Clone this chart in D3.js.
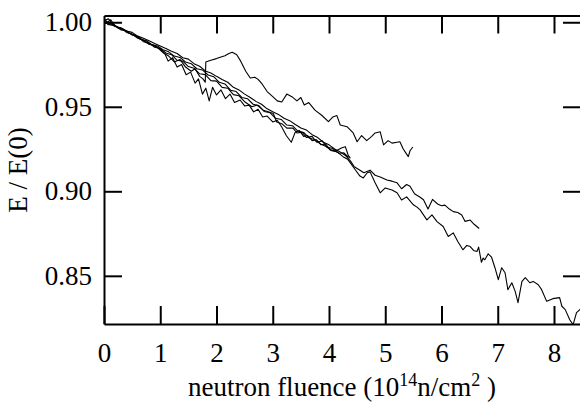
<!DOCTYPE html>
<html>
<head>
<meta charset="utf-8">
<script src="https://cdn.jsdelivr.net/npm/d3@7"></script>
<style>
  html, body { margin: 0; padding: 0; background: #fff; }
  svg { display: block; }
</style>
</head>
<body>
<svg id="chart" width="580" height="410" font-family="Liberation Serif"></svg>
<script>
// ---- data (fluence in 1e14 n/cm^2, E/E(0)) ----
const xTicks = [0, 1, 2, 3, 4, 5, 6, 7, 8];
const yTicks = [0.85, 0.90, 0.95, 1.00];
const xLabel = ["neutron fluence (10", "14", "n/cm", "2", " )"];
const yLabel = "E / E(0)";

const seriesA = [
  [0.00,1.001],[0.08,1.002],[0.15,0.999],[0.25,0.997],[0.35,0.9955],[0.45,0.9935],[0.55,0.992],
  [0.65,0.9905],[0.75,0.988],[0.85,0.9865],[0.95,0.985],[1.05,0.982],[1.15,0.980],[1.25,0.9765],
  [1.35,0.978],[1.45,0.9735],[1.55,0.971],[1.62,0.9725],[1.70,0.968],[1.76,0.9665],[1.80,0.9645],
  [1.81,0.9765],[1.90,0.9775],[2.00,0.9785],[2.08,0.9795],[2.15,0.9802],[2.22,0.9815],[2.28,0.9822],
  [2.36,0.9808],[2.43,0.977],[2.52,0.971],[2.60,0.967],[2.68,0.9675],[2.74,0.9662],[2.81,0.9635],
  [2.90,0.959],[3.00,0.956],[3.08,0.9535],[3.16,0.9528],[3.25,0.9575],[3.34,0.956],[3.43,0.9535],
  [3.50,0.9555],[3.56,0.951],[3.64,0.9525],[3.75,0.948],[3.87,0.945],[3.99,0.9412],[4.07,0.944],
  [4.14,0.9448],[4.20,0.9392],[4.32,0.9382],[4.43,0.9345],[4.50,0.9293],[4.58,0.933],[4.67,0.930],
  [4.76,0.9325],[4.82,0.9345],[4.91,0.9352],[4.97,0.9275],[5.05,0.930],[5.12,0.9285],[5.21,0.929],
  [5.26,0.9293],[5.32,0.925],[5.38,0.922],[5.41,0.9205],[5.44,0.924],[5.49,0.9262]
];

const seriesB = [
  [0.00,1.000],[0.10,0.9995],[0.20,0.9975],[0.30,0.9968],[0.40,0.9948],[0.50,0.994],[0.60,0.9918],
  [0.70,0.9905],[0.80,0.989],[0.90,0.9875],[1.00,0.986],[1.10,0.9845],[1.20,0.9828],[1.30,0.9815],
  [1.40,0.979],[1.50,0.9782],[1.60,0.9755],[1.70,0.974],[1.80,0.9712],[1.90,0.970],[2.00,0.968],
  [2.10,0.9662],[2.20,0.9645],[2.30,0.9615],[2.40,0.960],[2.50,0.9575],[2.60,0.9555],[2.70,0.9532],
  [2.80,0.9515],[2.90,0.9488],[3.00,0.947],[3.10,0.9455],[3.20,0.9432],[3.30,0.9418],[3.40,0.9395],
  [3.50,0.9375],[3.60,0.9362],[3.70,0.9335],[3.80,0.9318],[3.90,0.929],[4.00,0.9275],[4.10,0.925],
  [4.20,0.9232],[4.30,0.921],[4.38,0.918],[4.45,0.9145],[4.55,0.9125],[4.62,0.911],[4.73,0.9125],
  [4.82,0.9095],[4.91,0.9085],[5.03,0.9067],[5.12,0.906],[5.21,0.905],[5.29,0.9015],[5.38,0.904],
  [5.44,0.903],[5.52,0.8985],[5.62,0.8965],[5.68,0.895],[5.76,0.8895],[5.84,0.8952],[5.93,0.8925],
  [6.00,0.8915],[6.06,0.8918],[6.14,0.8895],[6.21,0.888],[6.29,0.8875],[6.36,0.886],[6.42,0.8822],
  [6.51,0.883],[6.58,0.8805],[6.67,0.878]
];

const seriesC = [
  [0.00,1.001],[0.08,0.9985],[0.16,0.9992],[0.25,0.9965],[0.35,0.9958],[0.45,0.9935],[0.55,0.9925],
  [0.65,0.9898],[0.75,0.9892],[0.85,0.9868],[0.95,0.986],[1.05,0.9838],[1.15,0.9825],[1.25,0.980],
  [1.35,0.9792],[1.45,0.9765],[1.55,0.9755],[1.65,0.9725],[1.75,0.9718],[1.85,0.9688],[1.95,0.9678],
  [2.05,0.9645],[2.15,0.9635],[2.25,0.9598],[2.35,0.959],[2.45,0.9555],[2.55,0.9548],[2.65,0.9515],
  [2.75,0.9508],[2.85,0.9472],[2.95,0.9465],[3.05,0.9432],[3.15,0.9425],[3.25,0.9392],[3.35,0.9388],
  [3.45,0.9355],[3.55,0.9348],[3.65,0.9315],[3.75,0.9305],[3.85,0.928],[3.95,0.9265],[4.05,0.924],
  [4.15,0.9232],[4.25,0.9205],[4.33,0.919],[4.38,0.9168],[4.47,0.9126],[4.55,0.909],[4.61,0.9079],
  [4.68,0.911],[4.73,0.9115],[4.82,0.905],[4.91,0.8991],[5.00,0.902],[5.12,0.9008],[5.21,0.8991],
  [5.29,0.8949],[5.38,0.8967],[5.50,0.892],[5.57,0.8905],[5.62,0.889],[5.74,0.8831],[5.83,0.8861],
  [5.92,0.8821],[6.03,0.8792],[6.12,0.8733],[6.21,0.8754],[6.29,0.8703],[6.38,0.8654],[6.45,0.868],
  [6.51,0.8673],[6.57,0.865],[6.63,0.8644],[6.66,0.867],[6.71,0.858],[6.74,0.8605],[6.77,0.8595],
  [6.83,0.863],[6.89,0.861],[6.95,0.8548],[7.01,0.8477],[7.07,0.8548],[7.13,0.8518],[7.18,0.8418],
  [7.25,0.8459],[7.31,0.8408],[7.36,0.8341],[7.43,0.8467],[7.49,0.8489],[7.57,0.8459],[7.63,0.8467],
  [7.72,0.8447],[7.78,0.8418],[7.87,0.8349],[7.98,0.8365],[8.10,0.8371],[8.14,0.832],[8.20,0.830],
  [8.28,0.824],[8.34,0.8211],[8.40,0.8282],[8.46,0.830],[8.52,0.833]
];

const seriesD = [
  [0.00,1.002],[0.06,1.000],[0.12,1.0015],[0.20,0.9975],[0.30,0.9965],[0.40,0.994],[0.50,0.993],
  [0.60,0.9905],[0.70,0.9895],[0.80,0.987],[0.90,0.9862],[1.00,0.984],[1.08,0.9815],[1.14,0.977],
  [1.22,0.979],[1.30,0.9735],[1.38,0.975],[1.46,0.969],[1.54,0.9705],[1.62,0.964],[1.68,0.9665],
  [1.75,0.9575],[1.81,0.961],[1.87,0.9535],[1.93,0.9615],[2.00,0.957],[2.08,0.960],[2.16,0.9548],
  [2.24,0.9575],[2.32,0.9525],[2.42,0.954],[2.50,0.9505],[2.58,0.951],[2.66,0.947],[2.74,0.9485],
  [2.82,0.944],[2.90,0.9445],[3.00,0.941],[3.08,0.942],[3.16,0.938],[3.24,0.933],[3.33,0.929],
  [3.40,0.935],[3.47,0.936],[3.55,0.9325],[3.62,0.933],[3.70,0.930],[3.78,0.9305],[3.86,0.9275],
  [3.94,0.928],[4.02,0.9245],[4.10,0.924],[4.18,0.9225],[4.26,0.9228],[4.35,0.920]
];

const seriesE = [
  [0.00,1.000],[0.10,0.9985],[0.20,0.9978],[0.30,0.9955],[0.40,0.995],[0.50,0.9925],[0.60,0.9915],
  [0.70,0.9885],[0.80,0.9878],[0.90,0.9852],[1.00,0.9845],[1.10,0.9818],[1.20,0.9808],[1.30,0.9775],
  [1.40,0.977],[1.50,0.9738],[1.60,0.9728],[1.70,0.9695],[1.80,0.969],[1.90,0.9655],[2.00,0.9652],
  [2.10,0.9615],[2.20,0.961],[2.30,0.9572],[2.40,0.9565],[2.50,0.953],[2.63,0.950],[2.72,0.951],
  [2.83,0.948],[2.92,0.947],[3.01,0.946],[3.07,0.941],[3.16,0.940],[3.25,0.9374],[3.36,0.9374],
  [3.43,0.9345],[3.52,0.935],[3.60,0.9318],[3.70,0.9325],[3.78,0.929],[3.88,0.9298],[3.96,0.9262],
  [4.05,0.9255],[4.13,0.924],[4.22,0.9256],[4.29,0.9264],[4.34,0.9215],[4.38,0.9195]
];

const allSeries = [seriesA, seriesB, seriesC, seriesD, seriesE];

// ---- layout ----
const plotLeft = 104, plotRight = 581, plotTop = 15.5, plotBottom = 324;
const svg = d3.select("#chart");

const x = d3.scaleLinear().domain([0, 8.48]).range([plotLeft, plotRight]);
const y = d3.scaleLinear().domain([0.8215, 1.004]).range([plotBottom, plotTop]);

svg.append("defs").append("clipPath").attr("id", "clip")
  .append("rect").attr("x", plotLeft).attr("y", plotTop)
  .attr("width", plotRight - plotLeft).attr("height", plotBottom - plotTop);

const line = d3.line().x(d => x(d[0])).y(d => y(d[1]));
svg.append("g").attr("clip-path", "url(#clip)")
  .selectAll("path").data(allSeries).join("path")
  .attr("d", line)
  .attr("fill", "none")
  .attr("stroke", "#000")
  .attr("stroke-width", 1.1)
  .attr("stroke-linejoin", "round");

const fs = 27;
function styleAxis(g) {
  g.attr("font-family", "Liberation Serif").attr("font-size", fs);
  g.selectAll(".domain").attr("stroke", "#000").attr("stroke-width", 2);
  g.selectAll(".tick line").attr("stroke", "#000").attr("stroke-width", 2);
  g.selectAll(".tick text").attr("fill", "#000");
}

svg.append("g").attr("transform", `translate(0,${plotBottom})`)
  .call(d3.axisBottom(x).tickValues(xTicks).tickFormat(d3.format("d"))
    .tickSizeInner(-18).tickSizeOuter(0).tickPadding(19))
  .call(styleAxis);

svg.append("g").attr("transform", `translate(0,${plotTop})`)
  .call(d3.axisTop(x).tickValues(xTicks.slice(1)).tickFormat("")
    .tickSizeInner(-18).tickSizeOuter(0))
  .call(styleAxis);

svg.append("g").attr("transform", `translate(${plotLeft},0)`)
  .call(d3.axisLeft(y).tickValues(yTicks).tickFormat(d3.format(".2f"))
    .tickSizeInner(-18).tickSizeOuter(0).tickPadding(12))
  .call(styleAxis);

svg.append("g").attr("transform", `translate(${plotRight},0)`)
  .call(d3.axisRight(y).tickValues(yTicks).tickFormat("")
    .tickSizeInner(-18).tickSizeOuter(0))
  .call(styleAxis);

// y label
svg.append("text")
  .attr("transform", `translate(27,170) rotate(-90)`)
  .attr("text-anchor", "middle")
  .attr("font-family", "Liberation Serif")
  .attr("font-size", fs)
  .text(yLabel);

// x label with superscripts
const xt = svg.append("text")
  .attr("x", 342).attr("y", 396)
  .attr("text-anchor", "middle")
  .attr("font-family", "Liberation Serif")
  .attr("font-size", fs);
xt.append("tspan").text(xLabel[0]);
xt.append("tspan").attr("dy", -10).attr("font-size", 18).text(xLabel[1]);
xt.append("tspan").attr("dy", 10).text(xLabel[2]);
xt.append("tspan").attr("dy", -10).attr("font-size", 18).text(xLabel[3]);
xt.append("tspan").attr("dy", 10).text(xLabel[4]);
</script>
</body>
</html>
